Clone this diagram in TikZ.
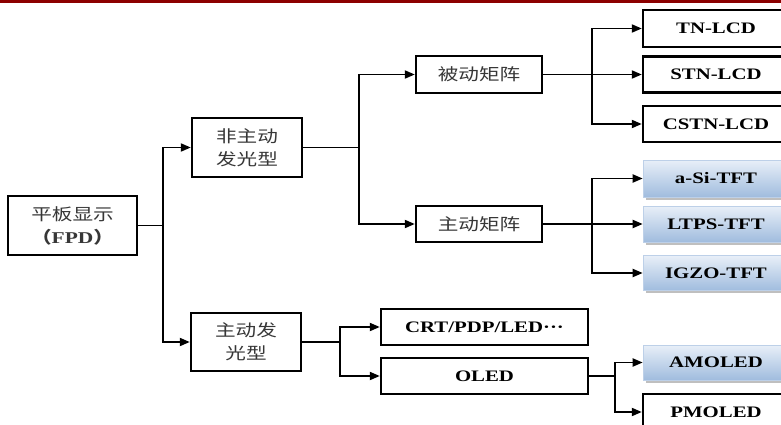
\documentclass[tikz,border=0pt]{standalone}
\usepackage{fontspec}
\newfontfamily\cjk[FakeStretch=1.25]{Noto Sans CJK SC}
\newfontfamily\lat[FakeStretch=1.3]{Liberation Serif}
\usetikzlibrary{arrows.meta,shadows}
\definecolor{barred}{RGB}{140,0,0}
\definecolor{txtgray}{RGB}{55,55,55}
\definecolor{gtop}{RGB}{232,239,248}
\definecolor{gbot}{RGB}{160,188,222}
\begin{document}
\begin{tikzpicture}[x=1pt,y=-1pt,
  wbox/.style={draw=black,line width=2.4pt,fill=white,inner sep=0pt},
  gbox/.style={draw=gbot!70!white,line width=0.6pt,top color=gtop,bottom color=gbot,inner sep=0pt,
    drop shadow={shadow xshift=2.5pt,shadow yshift=-2.5pt,fill=black!25,opacity=1}},
  cn/.style={font=\cjk\fontsize{16.5}{23}\selectfont,text=txtgray,align=center},
  en/.style={font=\lat\bfseries\fontsize{16}{19}\selectfont,text=black},
  ln/.style={line width=1.9pt,line join=miter},
  arr/.style={ln,-{Triangle[length=10pt,width=8pt]}}
]
\useasboundingbox (0,0) rectangle (781,425);
\fill[white] (0,0) rectangle (781,425);
\clip (0,0) rectangle (781,425);
\fill[barred] (0,0) rectangle (781,3);

% level 0
\node[wbox,cn,minimum width=129pt,minimum height=59pt] (fpd) at (72.5,225.5)
  {平板显示\\{\bfseries （}{\lat\bfseries FPD}{\bfseries ）}};
% level 1
\node[wbox,cn,minimum width=110pt,minimum height=59pt] (nf) at (247,147.5) {非主动\\发光型};
\node[wbox,cn,minimum width=110pt,minimum height=58pt] (zf) at (246,342) {主动发\\光型};
% level 2
\node[wbox,cn,minimum width=126pt,minimum height=37pt] (bd) at (479,74.5) {被动矩阵};
\node[wbox,cn,minimum width=126pt,minimum height=36pt] (zd) at (479,224) {主动矩阵};
\node[wbox,en,minimum width=207pt,minimum height=36pt] (crt) at (484.5,327) {CRT/PDP/LED···};
\node[wbox,en,minimum width=207pt,minimum height=36pt] (oled) at (484.5,376) {OLED};
% level 3
\node[wbox,en,minimum width=146pt,minimum height=37pt] (tn) at (716,28.5) {TN-LCD};
\node[wbox,en,minimum width=146pt,minimum height=36pt] (stn) at (716,74.5) {STN-LCD};
\node[wbox,en,minimum width=146pt,minimum height=36pt] (cstn) at (716,124) {CSTN-LCD};
\node[gbox,en,minimum width=146pt,minimum height=37pt] (asi) at (716,178.5) {a-Si-TFT};
\node[gbox,en,minimum width=146pt,minimum height=36pt] (ltps) at (716,224) {LTPS-TFT};
\node[gbox,en,minimum width=146pt,minimum height=35pt] (igzo) at (716,273) {IGZO-TFT};
\node[gbox,en,minimum width=146pt,minimum height=35pt] (amoled) at (716,362.5) {AMOLED};
\node[wbox,en,minimum width=146pt,minimum height=36pt] (pmoled) at (716,412) {PMOLED};

% junctions
\coordinate (j1) at (163,225.5);
\coordinate (j2) at (359,147.5);
\coordinate (j3) at (592,74.5);
\coordinate (j4) at (592,224);
\coordinate (j5) at (340,342);
\coordinate (j6) at (615,376);

\draw[ln] (fpd.east) -- (j1);
\draw[arr] (j1) |- (nf.west);
\draw[arr] (j1) |- (zf.west);

\draw[ln] (nf.east) -- (j2);
\draw[arr] (j2) |- (bd.west);
\draw[arr] (j2) |- (zd.west);

\draw[arr] (bd.east) -- (stn.west);
\draw[arr] (j3) |- (tn.west);
\draw[arr] (j3) |- (cstn.west);

\draw[arr] (zd.east) -- (ltps.west);
\draw[arr] (j4) |- (asi.west);
\draw[arr] (j4) |- (igzo.west);

\draw[ln] (zf.east) -- (j5);
\draw[arr] (j5) |- (crt.west);
\draw[arr] (j5) |- (oled.west);

\draw[ln] (oled.east) -- (j6);
\draw[arr] (j6) |- (amoled.west);
\draw[arr] (j6) |- (pmoled.west);
\end{tikzpicture}
\end{document}
